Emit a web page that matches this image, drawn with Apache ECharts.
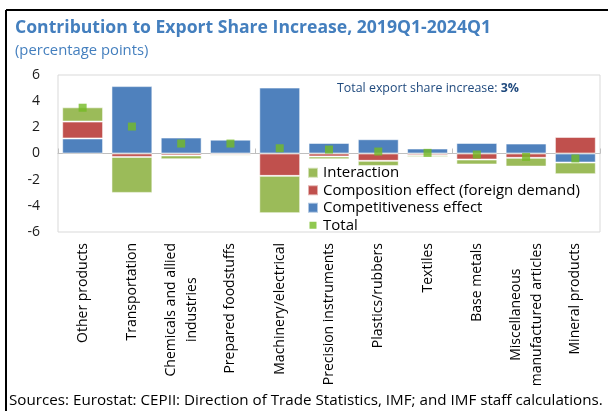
<!DOCTYPE html>
<html>
<head>
<meta charset="utf-8">
<script src="https://cdn.jsdelivr.net/npm/echarts@6/dist/echarts.min.js"></script>
<style>
html,body{margin:0;padding:0;background:#fff;}
#chart{width:608px;height:411px;}
</style>
</head>
<body>
<div id="chart"></div>
<script>
var categories = ['Other products','Transportation','Chemicals and allied\nindustries','Prepared foodstuffs','Machinery/electrical','Precision instruments','Plastics/rubbers','Textiles','Base metals','Miscellaneous\nmanufactured articles','Mineral products'];
var competitiveness = [1.15, 5.15, 1.22, 1.06, 5.04, 0.81, 1.09, 0.38, 0.81, 0.76, -0.69];
var composition = [1.29, -0.26, -0.15, -0.10, -1.71, -0.23, -0.56, -0.13, -0.46, -0.33, 1.27];
var interaction = [1.09, -2.75, -0.29, -0.10, -2.85, -0.21, -0.39, -0.13, -0.38, -0.67, -0.89];
var total = [3.5, 2.06, 0.76, 0.76, 0.40, 0.30, 0.15, 0.05, -0.08, -0.26, -0.38];
var yTicks = [-6, -4, -2, 0, 2, 4, 6];

var FONT = 'Open Sans';
var chart = echarts.init(document.getElementById('chart'), null, {renderer:'canvas'});
var barBorder = {borderColor:'rgba(255,255,255,0.55)', borderWidth:1};
chart.setOption({
  animation:false,
  textStyle:{fontFamily:FONT},
  title:[
    {text:'Contribution to Export Share Increase, 2019Q1-2024Q1', left:10, top:14,
     textStyle:{fontFamily:FONT, fontWeight:'bold', fontSize:17.6, color:'#447FBE'}},
    {text:'(percentage points)', left:10, top:38,
     textStyle:{fontFamily:FONT, fontWeight:'normal', fontSize:14.8, color:'#447FBE'}}
  ],
  grid:{left:58, right:8, top:75, bottom:179, show:true, borderColor:'#D9D9D9', borderWidth:1, containLabel:false},
  legend:{
    orient:'vertical', left:302, top:159, itemWidth:10, itemHeight:10, itemGap:0,
    textStyle:{fontFamily:FONT, fontSize:15, color:'#000', lineHeight:17.5},
    data:[
      {name:'Interaction', icon:'rect'},
      {name:'Composition effect (foreign demand)', icon:'rect'},
      {name:'Competitiveness effect', icon:'rect'},
      {name:'Total', icon:'path://M0,0L0.01,0Z M1.5,1.5h7v7h-7Z M10,10L10.01,10Z'}
    ]
  },
  xAxis:[
    {type:'category', data:categories, position:'bottom', axisLine:{onZero:false, show:false},
     axisTick:{show:false},
     axisLabel:{rotate:90, margin:11, interval:0, color:'#000', fontSize:14, fontFamily:FONT,
       formatter:function(v){return v.split('\n').map(function(s){return '{c|'+s+'}';}).join('\n');},
       rich:{c:{align:'center', fontSize:14, fontFamily:FONT, color:'#000', lineHeight:21}}}},
    {type:'category', data:categories, position:'top', axisLine:{onZero:true, lineStyle:{color:'#BFBFBF', width:1}},
     axisTick:{show:true, inside:false, length:5, lineStyle:{color:'#BFBFBF'}},
     axisLabel:{show:false}}
  ],
  yAxis:{type:'value', min:yTicks[0], max:yTicks[yTicks.length-1], interval:2,
    axisLine:{show:false}, axisTick:{show:false}, splitLine:{show:false},
    axisLabel:{color:'#1a1a1a', fontSize:14, margin:18, fontFamily:FONT}},
  series:[
    {name:'Competitiveness effect', type:'bar', stack:'a', data:competitiveness, barCategoryGap:'17%',
     itemStyle:Object.assign({color:'#4F81BD'}, barBorder)},
    {name:'Composition effect (foreign demand)', type:'bar', stack:'a', data:composition,
     itemStyle:Object.assign({color:'#C0504D'}, barBorder)},
    {name:'Interaction', type:'bar', stack:'a', data:interaction,
     itemStyle:Object.assign({color:'#9BBB59'}, barBorder)},
    {name:'Total', type:'scatter', data:total, symbol:'rect', symbolSize:8, z:5,
     itemStyle:{color:'#74BA24'}}
  ],
  graphic:[
    {type:'line', shape:{x1:6, y1:10, x2:608, y2:10}, style:{stroke:'#000', lineWidth:2}},
    {type:'line', shape:{x1:6, y1:10, x2:6, y2:411}, style:{stroke:'#000', lineWidth:2}},
    {type:'text', left:337, top:82, style:{
      text:'{n|Total export share increase: }{b|3%}',
      rich:{n:{fontFamily:FONT, fontSize:12.4, fill:'#1F497D'}, b:{fontFamily:FONT, fontSize:12.4, fontWeight:'bold', fill:'#1F497D'}}}},
    {type:'text', left:9, top:393, style:{text:'Sources: Eurostat: CEPII: Direction of Trade Statistics, IMF; and IMF staff calculations.',
      fontFamily:FONT, fontSize:15.2, fill:'#000'}}
  ]
});
</script>
</body>
</html>
